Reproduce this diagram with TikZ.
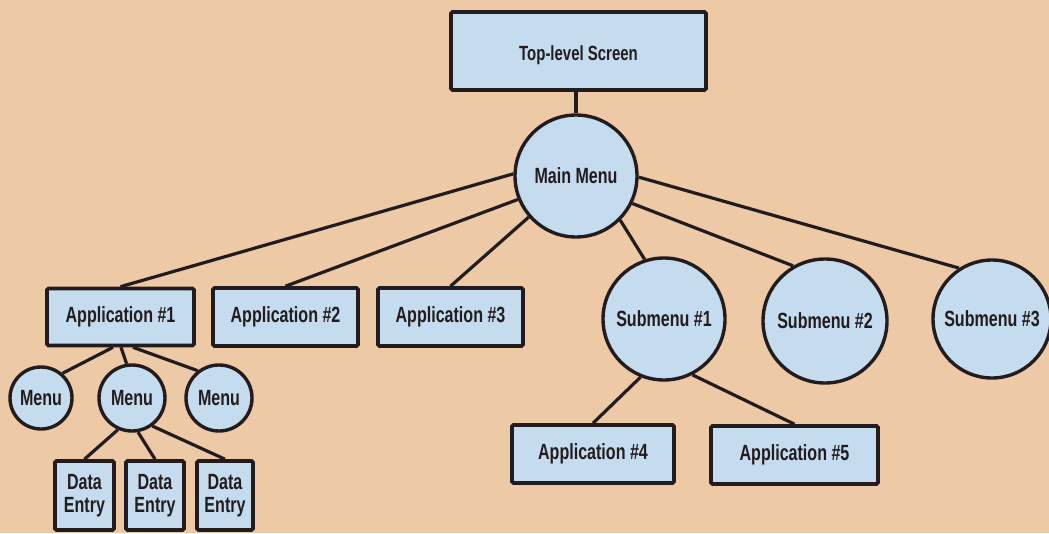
\documentclass[tikz,border=0pt]{standalone}
\usepackage{fontspec}
\setmainfont[FakeStretch=0.73,BoldFont={Liberation Sans Bold},UprightFont={Liberation Sans Bold}]{Liberation Sans}
\definecolor{bgc}{HTML}{EEC9A6}
\definecolor{boxfill}{HTML}{C4DCEE}
\definecolor{ink}{HTML}{231C1E}
\begin{document}
\begin{tikzpicture}[x=1pt,y=-1pt,
  every node/.style={text=ink,font=\fontsize{22}{22.5}\selectfont},
  boxnode/.style={draw=ink,fill=boxfill,line width=3.6pt,rounded corners=1.5pt,inner sep=0pt},
  circnode/.style={draw=ink,fill=boxfill,line width=3.4pt,circle,inner sep=0pt},
  conn/.style={draw=ink,line width=3.2pt}]
\useasboundingbox (0,0) rectangle (1049,533);
\clip (0,0) rectangle (1049,533);
\fill[bgc] (0,0) rectangle (1049,533);
\begin{scope}
\node[boxnode,minimum width=255pt,minimum height=78pt,text depth=0pt] (top) at (578.5,51) {\raisebox{-4pt}{\fontsize{20.5}{21}\selectfont Top-level Screen}};
\node[circnode,minimum size=122pt] (mm) at (576,176) {Main Menu};
\node[boxnode,minimum width=147pt,minimum height=57pt] (a1) at (120.5,317) {Application \#1};
\node[boxnode,minimum width=145pt,minimum height=58pt] (a2) at (285.5,317) {Application \#2};
\node[boxnode,minimum width=145pt,minimum height=58pt] (a3) at (450.5,317) {Application \#3};
\node[circnode,minimum size=122pt] (s1) at (664,319) {Submenu \#1};
\node[circnode,minimum size=124pt] (s2) at (825,321) {Submenu \#2};
\node[circnode,minimum size=118pt] (s3) at (992,319) {Submenu \#3};
\node[boxnode,minimum width=162pt,minimum height=58pt] (a4) at (593,454) {Application \#4};
\node[boxnode,minimum width=167pt,minimum height=58pt] (a5) at (794.5,455) {Application \#5};
\node[circnode,minimum size=62pt] (m1) at (41,398) {Menu};
\node[circnode,minimum size=66pt] (m2) at (132,398) {Menu};
\node[circnode,minimum size=66pt] (m3) at (219,398) {Menu};
\node[boxnode,minimum width=59pt,minimum height=69pt,align=center] (d1) at (84.5,495.5) {Data\\Entry};
\node[boxnode,minimum width=58pt,minimum height=69pt,align=center] (d2) at (155,495.5) {Data\\Entry};
\node[boxnode,minimum width=56pt,minimum height=69pt,align=center] (d3) at (225,495.5) {Data\\Entry};
\end{scope}
\begin{scope}[line cap=butt]
\draw[conn] (mm.north |- top.south) -- (mm.north);
\draw[conn] (mm.178) -- (a1.north);
\draw[conn] (mm.202) -- (a2.north);
\draw[conn] (mm.221) -- (a3.north);
\draw[conn] (mm.315) -- (s1.108);
\draw[conn] (mm.334) -- (s2.120);
\draw[conn] (mm.359) -- (s3.123);
\draw[conn] (s1.248) -- (a4.north);
\draw[conn] (s1.297) -- (a5.north);
\draw[conn] ([xshift=-7.5pt]a1.south) -- (m1.49);
\draw[conn] ([xshift=0.5pt]a1.south) -- (m2.99);
\draw[conn] ([xshift=12.5pt]a1.south) -- (m3.128);
\draw[conn] (m2.246) -- (d1.north);
\draw[conn] (m2.280) -- (d2.north);
\draw[conn] (m2.306) -- (d3.north);
\end{scope}
\end{tikzpicture}
\end{document}
